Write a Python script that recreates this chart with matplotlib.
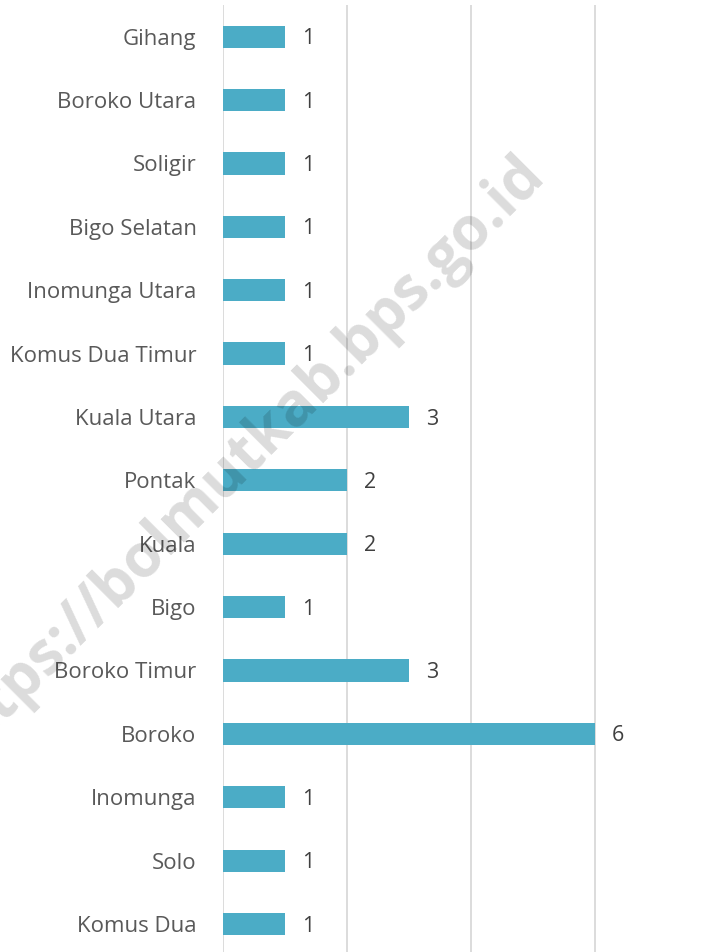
import matplotlib.pyplot as plt

# data, bottom to top
villages = ["Komus Dua", "Solo", "Inomunga", "Boroko", "Boroko Timur", "Bigo",
            "Kuala", "Pontak", "Kuala Utara", "Komus Dua Timur", "Inomunga Utara",
            "Bigo Selatan", "Soligir", "Boroko Utara", "Gihang"]
counts = [1, 1, 1, 6, 3, 1, 2, 2, 3, 1, 1, 1, 1, 1, 1]

plt.rcParams['font.family'] = ['Open Sans', 'DejaVu Sans']

W, H = 715, 952
fig = plt.figure(figsize=(W / 100, H / 100), dpi=100)
ax_left, ax_bottom = 223, -3.7
ax = fig.add_axes([ax_left / W, ax_bottom / H, (W - ax_left) / W, (H - 5 - ax_bottom) / H])

y = range(len(villages))
ax.barh(y, counts, height=0.35, color='#4BACC6', zorder=2)
for yi, c in zip(y, counts):
    ax.annotate(str(c), (c, yi), xytext=(12, -1.5), textcoords='offset points',
                ha='left', va='center', fontsize=15.5, color='#404040')

ax.set_xlim(0, (W - ax_left) / 62)
ax.set_ylim(-0.5, len(villages) - 0.5)
ax.set_xticks([0, 2, 4, 6])
ax.set_xticklabels([])
ax.grid(axis='x', color='#d9d9d9', linewidth=1.3, zorder=0)
ax.set_yticks(list(y))
ax.set_yticklabels(villages, fontsize=16, color='#595959')
ax.tick_params(axis='both', length=0, pad=19)
for s in ax.spines.values():
    s.set_visible(False)

# watermark
fig.text(240 / W, 1 - 460 / H, "https://bolmutkab.bps.go.id", rotation=45,
         ha='center', va='center', fontsize=43, fontweight='bold',
         color='black', alpha=0.14, zorder=10)

fig.savefig("out.png", dpi=100)
